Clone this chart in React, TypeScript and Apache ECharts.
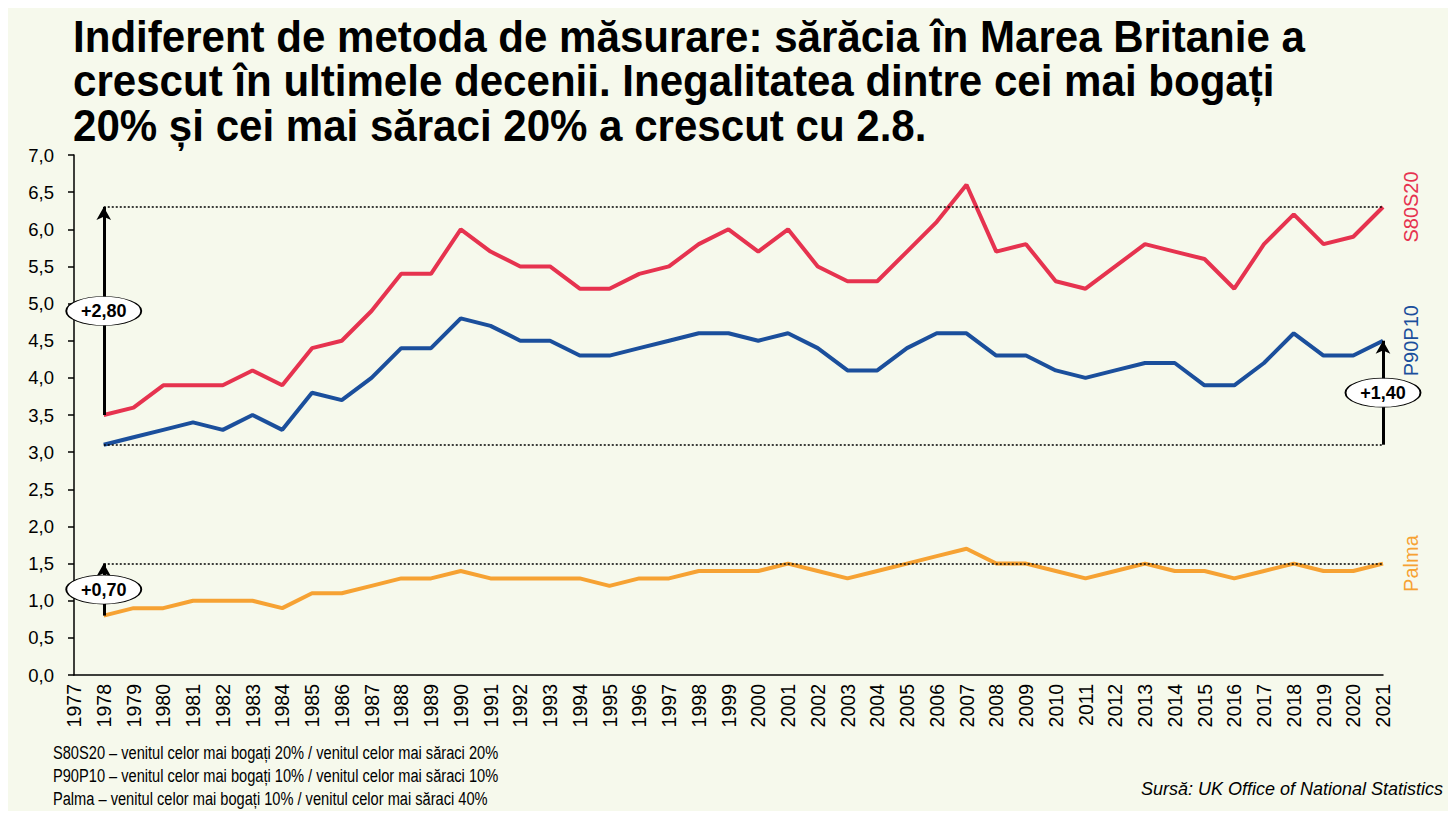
import React, { useEffect, useRef } from "react";
import * as echarts from "echarts";

const years: string[] = [];
for (let y = 1977; y <= 2021; y++) years.push(String(y));

const s80s20 = [null, 3.5, 3.6, 3.9, 3.9, 3.9, 4.1, 3.9, 4.4, 4.5, 4.9, 5.4, 5.4, 6.0, 5.7, 5.5, 5.5, 5.2, 5.2, 5.4, 5.5, 5.8, 6.0, 5.7, 6.0, 5.5, 5.3, 5.3, 5.7, 6.1, 6.6, 5.7, 5.8, 5.3, 5.2, 5.5, 5.8, 5.7, 5.6, 5.2, 5.8, 6.2, 5.8, 5.9, 6.3];
const p90p10 = [null, 3.1, 3.2, 3.3, 3.4, 3.3, 3.5, 3.3, 3.8, 3.7, 4.0, 4.4, 4.4, 4.8, 4.7, 4.5, 4.5, 4.3, 4.3, 4.4, 4.5, 4.6, 4.6, 4.5, 4.6, 4.4, 4.1, 4.1, 4.4, 4.6, 4.6, 4.3, 4.3, 4.1, 4.0, 4.1, 4.2, 4.2, 3.9, 3.9, 4.2, 4.6, 4.3, 4.3, 4.5];
const palma = [null, 0.8, 0.9, 0.9, 1.0, 1.0, 1.0, 0.9, 1.1, 1.1, 1.2, 1.3, 1.3, 1.4, 1.3, 1.3, 1.3, 1.3, 1.2, 1.3, 1.3, 1.4, 1.4, 1.4, 1.5, 1.4, 1.3, 1.4, 1.5, 1.6, 1.7, 1.5, 1.5, 1.4, 1.3, 1.4, 1.5, 1.4, 1.4, 1.3, 1.4, 1.5, 1.4, 1.4, 1.5];

const titleLines = [
  "Indiferent de metoda de măsurare: sărăcia în Marea Britanie a",
  "crescut în ultimele decenii. Inegalitatea dintre cei mai bogați",
  "20% și cei mai săraci 20% a crescut cu 2.8.",
];
const notes = [
  "S80S20 – venitul celor mai bogați 20% / venitul celor mai săraci 20%",
  "P90P10 – venitul celor mai bogați 10% / venitul celor mai săraci 10%",
  "Palma – venitul celor mai bogați 10% / venitul celor mai săraci 40%",
];
const source = "Sursă: UK Office of National Statistics";

const RED = "#E6334F";
const BLUE = "#1B4F9C";
const ORANGE = "#F6A233";
const BG = "#F6F9EC";
const FONT = "Liberation Sans, Arial, sans-serif";

const first = years[1];
const last = years[years.length - 1];
const fmt = (v: number) => (v >= 0 ? "+" : "") + v.toFixed(2).replace(".", ",");

const ellipsePath = "path://M0,50 A50,50 0 1,1 100,50 A50,50 0 1,1 0,50 Z";

export default function App() {
  const ref = useRef<HTMLDivElement>(null);
  useEffect(() => {
    if (!ref.current) return;
    const chart = echarts.init(ref.current, null, { renderer: "svg" });

    const sFirst = s80s20[1] as number;
    const sLast = s80s20[s80s20.length - 1] as number;
    const pFirst = p90p10[1] as number;
    const pLast = p90p10[p90p10.length - 1] as number;
    const mFirst = palma[1] as number;
    const mLast = palma[palma.length - 1] as number;

    const arrows = [
      { x: first, from: sFirst, to: sLast },
      { x: last, from: pFirst, to: pLast },
      { x: first, from: mFirst, to: mLast },
    ];

    const dotted = { color: "#000", width: 1.5, type: [2, 2] as any };
    const arrowStyle = { color: "#000", width: 3, type: "solid" as any };

    const markLineData: any[] = [
      [{ coord: [first, sLast], lineStyle: dotted }, { coord: [last, sLast] }],
      [{ coord: [first, pFirst], lineStyle: dotted }, { coord: [last, pFirst] }],
      [{ coord: [first, mLast], lineStyle: dotted }, { coord: [last, mLast] }],
      ...arrows.map((a) => [
        { coord: [a.x, a.from], lineStyle: arrowStyle, symbol: "none" },
        { coord: [a.x, a.to], symbol: "arrow", symbolSize: [11, 13] },
      ]),
    ];

    const markPointData = arrows.map((a) => ({
      coord: [a.x, (a.from + a.to) / 2],
      value: fmt(a.to - a.from),
    }));

    const option: any = {
      animation: false,
      backgroundColor: BG,
      grid: { left: 74, right: 73, top: 155, bottom: 144, containLabel: false },
      xAxis: {
        type: "category",
        data: years,
        boundaryGap: false,
        axisLine: { lineStyle: { color: "#000", width: 1.5 } },
        axisTick: { show: false },
        axisLabel: {
          rotate: 90,
          color: "#000",
          fontSize: 19.5,
          fontFamily: FONT,
          margin: 9,
          interval: 0,
        },
        splitLine: { show: false },
      },
      yAxis: {
        type: "value",
        min: 0,
        max: 7,
        interval: 0.5,
        axisLine: { show: true, lineStyle: { color: "#000", width: 1.5 } },
        axisTick: { show: true, length: 6, lineStyle: { color: "#000", width: 1.5 } },
        axisLabel: {
          color: "#000",
          fontSize: 18.5,
          fontFamily: FONT,
          margin: 20,
          formatter: (v: number) => v.toFixed(1).replace(".", ","),
        },
        splitLine: { show: false },
      },
      series: [
        {
          name: "S80S20",
          type: "line",
          data: s80s20,
          symbol: "none",
          lineStyle: { color: RED, width: 4 },
          itemStyle: { color: RED },
          z: 3,
        },
        {
          name: "P90P10",
          type: "line",
          data: p90p10,
          symbol: "none",
          lineStyle: { color: BLUE, width: 4 },
          itemStyle: { color: BLUE },
          z: 3,
        },
        {
          name: "Palma",
          type: "line",
          data: palma,
          symbol: "none",
          lineStyle: { color: ORANGE, width: 4 },
          itemStyle: { color: ORANGE },
          z: 3,
          markLine: {
            silent: true,
            symbol: "none",
            label: { show: false },
            data: markLineData,
            z: 4,
          },
          markPoint: {
            silent: true,
            symbol: ellipsePath,
            symbolSize: [75, 29],
            symbolKeepAspect: false,
            itemStyle: { color: "#fff", borderColor: "#000", borderWidth: 1.2 },
            label: {
              show: true,
              color: "#000",
              fontSize: 18,
              fontWeight: "bold",
              fontFamily: FONT,
              formatter: (p: any) => p.value,
            },
            data: markPointData,
            z: 6,
          },
        },
      ],
    };
    chart.setOption(option);

    const seriesLabels = [
      { name: "S80S20", color: RED, v: sLast },
      { name: "P90P10", color: BLUE, v: pLast },
      { name: "Palma", color: ORANGE, v: mLast },
    ];
    const graphics: any[] = [];
    titleLines.forEach((t, i) => {
      graphics.push({
        type: "text",
        x: 73,
        y: 14 + i * 44.5,
        scaleX: 0.935,
        style: {
          text: t,
          fontSize: 45,
          fontWeight: "bold",
          fontFamily: FONT,
          fill: "#000",
          textVerticalAlign: "top",
        },
      });
    });
    notes.forEach((t, i) => {
      graphics.push({
        type: "text",
        x: 53,
        y: 753 + i * 23,
        scaleX: 0.77,
        style: {
          text: t,
          fontSize: 19,
          fontFamily: FONT,
          fill: "#000",
          textVerticalAlign: "middle",
        },
      });
    });
    graphics.push({
      type: "text",
      x: 1443,
      y: 789,
      style: {
        text: source,
        fontSize: 18,
        fontStyle: "italic",
        fontFamily: FONT,
        fill: "#000",
        textAlign: "right",
        textVerticalAlign: "middle",
      },
    });
    seriesLabels.forEach((s) => {
      const px = chart.convertToPixel({ xAxisIndex: 0, yAxisIndex: 0 }, [last, s.v]) as number[];
      graphics.push({
        type: "text",
        x: px[0] + 28,
        y: px[1],
        rotation: Math.PI / 2,
        style: {
          text: s.name,
          fontSize: 20,
          fontFamily: FONT,
          fill: s.color,
          textAlign: "center",
          textVerticalAlign: "middle",
        },
      });
    });
    chart.setOption({ graphic: graphics });

    return () => chart.dispose();
  }, []);
  return <div ref={ref} style={{ width: 1456, height: 819, margin: -8 }} />;
}
